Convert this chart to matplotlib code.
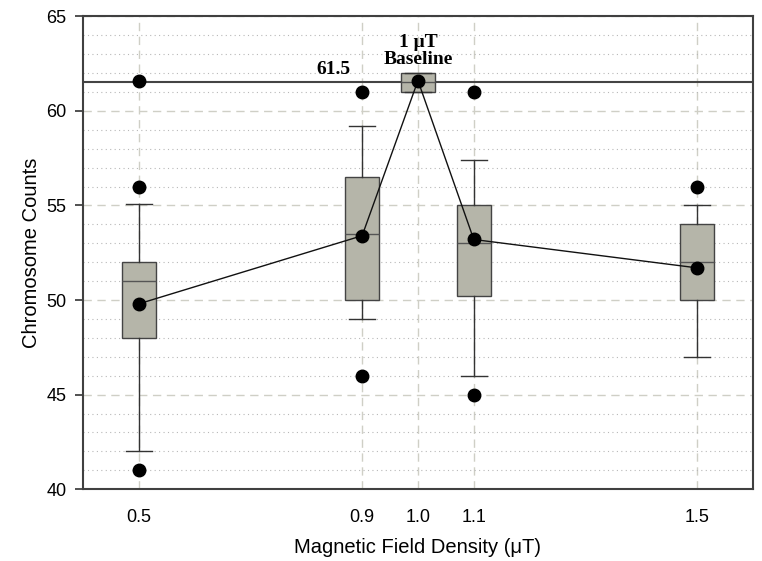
import matplotlib
matplotlib.use("Agg")
import matplotlib.pyplot as plt
from matplotlib.ticker import MultipleLocator

# ---- data ----
positions = [0.5, 0.9, 1.0, 1.1, 1.5]
tick_labels = ["0.5", "0.9", "1.0", "1.1", "1.5"]
q1 = [48.0, 50.0, 61.0, 50.2, 50.0]
medians = [51.0, 53.5, 61.5, 53.0, 52.0]
q3 = [52.0, 56.5, 62.0, 55.0, 54.0]
whisker_low = [42.0, 49.0, 61.0, 46.0, 47.0]
whisker_high = [55.1, 59.2, 62.0, 57.4, 55.0]
outliers = [[61.6, 56.0, 41.0], [61.0, 46.0], [], [61.0, 45.0], [56.0]]
means = [49.8, 53.4, 61.6, 53.2, 51.7]
baseline = 61.5

plt.rcParams['font.family'] = ['Liberation Sans', 'DejaVu Sans']

fig = plt.figure(figsize=(7.62, 5.61), dpi=100)
ax = fig.add_axes([0.109, 0.128, 0.879, 0.843])

stats = []
for i in range(len(positions)):
    stats.append(dict(q1=q1[i], med=medians[i], q3=q3[i],
                      whislo=whisker_low[i], whishi=whisker_high[i],
                      fliers=outliers[i]))

ax.bxp(stats, positions=positions, widths=0.06, capwidths=0.046,
       patch_artist=True, showfliers=True, manage_ticks=False,
       boxprops=dict(facecolor='#b5b5a9', edgecolor='#444444', linewidth=1.0),
       medianprops=dict(color='#555555', linewidth=1.0),
       whiskerprops=dict(color='#333333', linewidth=1.0),
       capprops=dict(color='#333333', linewidth=1.0),
       flierprops=dict(marker='o', markerfacecolor='black', markeredgecolor='black',
                       markersize=9, linestyle='none'),
       zorder=3)

ax.axhline(baseline, color='#444444', linewidth=1.5, zorder=2)
ax.plot(positions, means, color='#111111', linewidth=1.0, marker='o',
        markersize=9, markerfacecolor='black', markeredgecolor='black', zorder=5)

ax.set_xlim(0.4, 1.6)
ax.set_ylim(40, 65)
ax.set_xticks(positions)
ax.set_xticklabels(tick_labels)
ax.yaxis.set_major_locator(MultipleLocator(5))
ax.yaxis.set_minor_locator(MultipleLocator(1))

ax.grid(True, which='major', axis='y', linestyle=(0, (6, 4)), color='#cfcfc6', linewidth=1.0, zorder=0)
ax.grid(True, which='minor', axis='y', linestyle=(0, (1, 3)), color='#b8b8b8', linewidth=0.8, zorder=0)
ax.grid(True, which='major', axis='x', linestyle=(0, (6, 4)), color='#cfcfc6', linewidth=1.0, zorder=0)
ax.set_axisbelow(True)

ax.tick_params(axis='y', which='major', direction='out', length=6, width=1.2,
               color='#333333', labelsize=13, pad=6)
ax.tick_params(axis='y', which='minor', length=0)
ax.tick_params(axis='x', which='major', length=0, labelsize=13, pad=14)

for s in ax.spines.values():
    s.set_color('#404040')
    s.set_linewidth(1.5)

ax.set_xlabel('Magnetic Field Density (μT)', fontsize=14.5, labelpad=9)
ax.set_ylabel('Chromosome Counts', fontsize=14.5, labelpad=4)

ax.text(0.88, 61.75, '61.5', fontsize=14, fontweight='bold',
        family=['Liberation Serif', 'DejaVu Serif'], ha='right', va='bottom')
ax.text(1.0, 62.25, '1 μT\nBaseline', fontsize=14, fontweight='bold',
        family=['Liberation Serif', 'DejaVu Serif'], ha='center', va='bottom',
        linespacing=1.0)

fig.savefig('out.png', dpi=100)
